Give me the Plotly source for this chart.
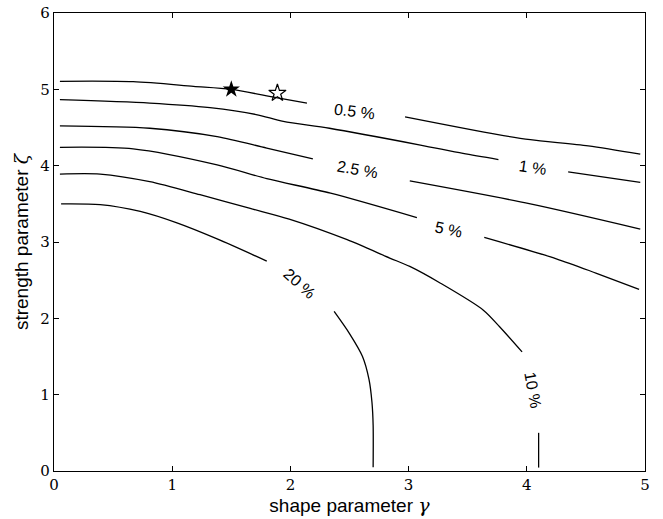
import plotly.graph_objects as go

# Contour levels (label text) and their traced coordinates (None = gap for label)
levels = ["0.5 %", "1 %", "2.5 %", "5 %", "10 %", "20 %"]

c05_x = [0.05, 0.67, 1.18, 1.50, 1.88, 2.14, None, 2.97, 3.745, 4.03, 4.52, 4.96]
c05_y = [5.105, 5.10, 5.04, 5.00, 4.89, 4.82, None, 4.64, 4.41, 4.34, 4.26, 4.15]

c1_x = [0.05, 0.81, 1.32, 1.71, 1.94, 2.33, 3.10, 3.46, 3.76, None, 4.35, 4.96]
c1_y = [4.865, 4.82, 4.76, 4.67, 4.58, 4.49, 4.27, 4.16, 4.08, None, 3.92, 3.78]

c25_x = [0.05, 0.81, 1.38, 1.80, 2.19, None, 3.01, 4.03, 4.96]
c25_y = [4.52, 4.49, 4.38, 4.23, 4.09, None, 3.80, 3.50, 3.17]

c5_x = [0.05, 0.67, 1.38, 1.80, 2.34, 3.07, None, 3.64, 4.25, 4.59, 4.95]
c5_y = [4.24, 4.22, 4.01, 3.83, 3.64, 3.32, None, 3.06, 2.78, 2.59, 2.38]

c10_x = [0.05, 0.39, 0.81, 1.235, 1.66, 1.99, 2.48, 2.84, 3.01, 3.27, 3.63, 3.77, 3.96, None, 4.10, 4.10]
c10_y = [3.89, 3.89, 3.79, 3.62, 3.44, 3.30, 3.03, 2.79, 2.68, 2.46, 2.11, 1.89, 1.56, None, 0.50, 0.045]

c20_x = [0.06, 0.39, 0.73, 1.04, 1.38, 1.80, None, 2.37, 2.50, 2.61, 2.665, 2.69, 2.70, 2.70]
c20_y = [3.50, 3.49, 3.40, 3.25, 3.04, 2.75, None, 2.09, 1.80, 1.50, 1.20, 0.90, 0.60, 0.05]

label_x = [2.54, 4.05, 2.57, 3.34, 4.055, 2.075]
label_y = [4.71, 3.98, 3.95, 3.17, 1.06, 2.45]
label_angle = [7, 8, 10, 12, 80, 42]

star_x = [1.50]
star_y = [5.00]
open_star_x = [1.89]
open_star_y = [4.95]

x_ticks = [0, 1, 2, 3, 4, 5]
y_ticks = [0, 1, 2, 3, 4, 5, 6]

fig = go.Figure()
for cx, cy in [(c05_x, c05_y), (c1_x, c1_y), (c25_x, c25_y),
               (c5_x, c5_y), (c10_x, c10_y), (c20_x, c20_y)]:
    fig.add_trace(go.Scatter(x=cx, y=cy, mode="lines", connectgaps=False,
                             line=dict(color="black", width=1.3, shape="spline", smoothing=0.8),
                             showlegend=False, hoverinfo="skip"))

fig.add_trace(go.Scatter(x=star_x, y=star_y, mode="markers",
                         marker=dict(symbol="star", size=13, color="black"),
                         showlegend=False))
fig.add_trace(go.Scatter(x=open_star_x, y=open_star_y, mode="markers",
                         marker=dict(symbol="star-open", size=13, color="black",
                                     line=dict(width=1.2)),
                         showlegend=False))

for t, lx, ly, ang in zip(levels, label_x, label_y, label_angle):
    fig.add_annotation(x=lx, y=ly, text=t, showarrow=False, textangle=ang,
                       font=dict(family="Liberation Sans, Arial", size=16, color="black"))

axis_common = dict(showgrid=False, zeroline=False, showline=True, linecolor="black",
                   linewidth=1.3, mirror="ticks", ticks="inside", ticklen=5,
                   tickcolor="black", tickwidth=1, automargin=False,
                   tickfont=dict(family="DejaVu Serif, Liberation Serif", size=15, color="black"))

serif_span = "<span style='font-family:\"DejaVu Serif\",serif'><i>{}</i></span>"

fig.update_xaxes(range=[0, 5], tickvals=x_ticks,
                 title=dict(text="shape parameter " + serif_span.format("γ"), standoff=4,
                            font=dict(family="Liberation Sans, Arial", size=19, color="black")),
                 **axis_common)
fig.update_yaxes(range=[0, 6], tickvals=y_ticks,
                 title=dict(text="strength parameter " + serif_span.format("ζ"), standoff=6,
                            font=dict(family="Liberation Sans, Arial", size=19, color="black")),
                 **axis_common)

fig.update_layout(width=663, height=519, plot_bgcolor="white", paper_bgcolor="white",
                  margin=dict(l=54, r=18, t=13, b=48), showlegend=False)

# remove the page's default 8 px body margin so the figure fills the window exactly
fig.write_html("out.html", config={"displayModeBar": False},
               post_script="document.body.style.margin='0';document.body.style.overflow='hidden';")
